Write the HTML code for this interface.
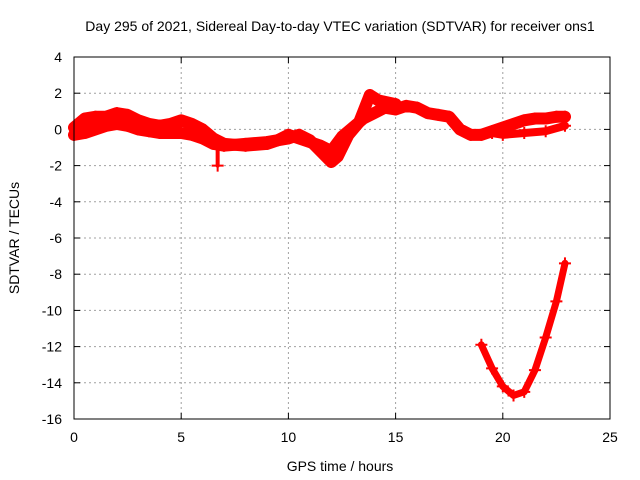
<!DOCTYPE html>
<html><head><meta charset="utf-8"><style>
body{margin:0;background:#fff}
svg{display:block;font-family:"Liberation Sans",sans-serif;font-size:14px}
</style></head><body>
<svg id="c" width="640" height="480" xmlns="http://www.w3.org/2000/svg">
<rect width="640" height="480" fill="#fff"/>
<text x="340" y="31" text-anchor="middle">Day 295 of 2021, Sidereal Day-to-day VTEC variation (SDTVAR) for receiver ons1</text>
<text x="340" y="471" text-anchor="middle">GPS time / hours</text>
<text transform="translate(19,238) rotate(-90)" text-anchor="middle">SDTVAR / TECUs</text>
<g id="grid"></g><g id="data"></g>
<rect x="74" y="57" width="536" height="362" fill="none" stroke="#000" stroke-width="1"/>
</svg>
<script>
const xTicks=[0,5,10,15,20,25];
const yTicks=[4,2,0,-2,-4,-6,-8,-10,-12,-14,-16];
const upperHours=[0,0.5,1,1.5,2,2.5,3,3.5,4,4.5,5,5.5,6,6.5,7,8,9,9.5,10,10.5,11,11.5,12,12.5,13,13.5,14,14.5,15,15.5,16,16.5,17,17.5,18,18.5,19,19.5,20,20.5,21,21.5,22,22.5,22.9];
const upperValues=[0.1,0.6,0.7,0.7,0.9,0.8,0.5,0.3,0.2,0.3,0.5,0.3,0,-0.5,-0.8,-0.9,-0.8,-0.6,-0.3,-0.5,-0.7,-0.9,-1.2,-0.4,0.1,0.6,0.9,1.2,1.1,1.3,1.2,0.9,0.8,0.7,0.0,-0.3,-0.3,-0.1,0.1,0.3,0.5,0.6,0.6,0.7,0.7];
const lowerHours=[0,0.5,1,1.5,2,2.5,3,3.5,4,5,5.5,6,6.5,7,8,9,10,10.5,11,11.5,12,12.3,12.8,13.3,13.8,14.2,15];
const lowerValues=[-0.3,-0.2,0,0.2,0.3,0.2,0,-0.1,-0.2,-0.2,-0.3,-0.5,-0.8,-0.9,-0.8,-0.7,-0.5,-0.3,-0.6,-1.2,-1.8,-1.5,-0.3,0.4,1.9,1.6,1.4];
const branchHours=[0.4,1,1.5,2,2.5,3];
const branchValues=[0.2,0.5,0.6,0.5,0.3,0.1];
const tailHours=[19.5,20,21,22,22.9];
const tailValues=[-0.2,-0.3,-0.2,-0.1,0.2];
const spikeHours=[6.7,6.7];
const spikeValues=[-0.9,-2.0];
const dipHours=[19,19.5,20,20.5,21,21.5,22,22.5,22.9];
const dipValues=[-11.9,-13.2,-14.2,-14.7,-14.5,-13.3,-11.5,-9.5,-7.4];
const X=h=>74+h*536/25, Y=v=>57+(4-v)*362/20;
const NS='http://www.w3.org/2000/svg';
const g=document.getElementById('grid'), d=document.getElementById('data');
function mk(t,a,p){const e=document.createElementNS(NS,t);for(const k in a)e.setAttribute(k,a[k]);p.appendChild(e);return e;}
xTicks.forEach(t=>{
 if(t>0&&t<25){const l=mk('line',{x1:X(t),x2:X(t),y1:57,y2:419,stroke:'#a0a0a0','stroke-dasharray':'2,3'},g);
 
 }
 mk('line',{x1:X(t),x2:X(t),y1:419,y2:413,stroke:'#000'},g);
 mk('line',{x1:X(t),x2:X(t),y1:57,y2:63,stroke:'#000'},g);
 const s=mk('text',{x:X(t),y:442,'text-anchor':'middle'},g);s.textContent=t;
 
 
});
yTicks.forEach(t=>{
 if(t<4&&t>-16){const l=mk('line',{x1:74,x2:610,y1:Y(t),y2:Y(t),stroke:'#a0a0a0','stroke-dasharray':'2,3'},g);
 
 }
 mk('line',{x1:74,x2:80,y1:Y(t),y2:Y(t),stroke:'#000'},g);
 mk('line',{x1:604,x2:610,y1:Y(t),y2:Y(t),stroke:'#000'},g);
 const s=mk('text',{x:62,y:Y(t)+5,'text-anchor':'end'},g);s.textContent=t;
 
 
});
function series(hs,vs,name,w){
 const pts=hs.map((h,i)=>X(h)+','+Y(vs[i])).join(' ');
 const p=mk('polyline',{points:pts,fill:'none',stroke:'#f00','stroke-width':w,'stroke-linejoin':'round','stroke-linecap':'round'},d);
 
 
 hs.forEach((h,i)=>{const x=X(h),y=Y(vs[i]);
  const m=mk('path',{d:`M${x-6},${y}h12M${x},${y-6}v12`,stroke:'#f00','stroke-width':2},d);
  
  });
}
series(upperHours,upperValues,'upper-band-series',12);
series(lowerHours,lowerValues,'lower-band-series',12);
series(branchHours,branchValues,'branch-series',8);
series(tailHours,tailValues,'tail-series',8);
series(spikeHours,spikeValues,'spike-series',4);
series(dipHours,dipValues,'dip-series',7);
</script>
</body></html>
